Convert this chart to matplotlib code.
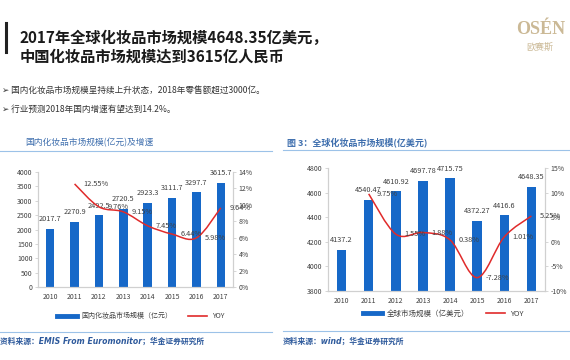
import numpy as np
import matplotlib
matplotlib.use('Agg')
import matplotlib.pyplot as plt
from matplotlib.path import Path
from matplotlib.patches import PathPatch
from matplotlib.lines import Line2D

plt.rcParams['font.family'] = ['Noto Sans CJK SC', 'DejaVu Sans']

# ---- data ----
years = ['2010', '2011', '2012', '2013', '2014', '2015', '2016', '2017']
cn_size = [2017.7, 2270.9, 2492.5, 2720.5, 2923.3, 3111.7, 3297.7, 3615.7]
cn_yoy = [12.55, 9.76, 9.15, 7.45, 6.44, 5.98, 9.64]          # 2011-2017
world_size = [4137.2, 4540.47, 4610.92, 4697.78, 4715.75, 4372.27, 4416.6, 4648.35]
world_yoy = [9.75, 1.55, 1.88, 0.38, -7.28, 1.01, 5.25]       # 2011-2017

title_lines = ['2017年全球化妆品市场规模4648.35亿美元，', '中国化妆品市场规模达到3615亿人民币']
bullets = ['➢ 国内化妆品市场规模呈持续上升状态，2018年零售额超过3000亿。',
           '➢ 行业预测2018年国内增速有望达到14.2%。']

BLUE = '#1668c8'
RED = '#e02b2b'
HDR = '#3f6fae'
RULE = '#9cc2e8'
SPINE = '#d0d0d0'
TXT = '#404040'
SRC = ['DejaVu Sans', 'Noto Sans CJK SC']   # oblique latin, cjk falls back

W, H = 570, 360


def px(x, y):
    return x / W, 1 - y / H


def smooth_path(xs, ys):
    # catmull-rom style bezier through the points, like excel's smoothed line
    pts = np.column_stack([xs, ys]).astype(float)
    n = len(pts)
    verts = [pts[0]]
    codes = [Path.MOVETO]
    for i in range(n - 1):
        p0 = pts[i - 1] if i > 0 else pts[i]
        p1 = pts[i]
        p2 = pts[i + 1]
        p3 = pts[i + 2] if i + 2 < n else pts[i + 1]
        verts += [p1 + (p2 - p0) / 6, p2 - (p3 - p1) / 6, p2]
        codes += [Path.CURVE4] * 3
    return Path(verts, codes)


def style_axes(ax, ax2):
    for a in (ax, ax2):
        a.spines['top'].set_visible(False)
        for s in ('left', 'right', 'bottom'):
            a.spines[s].set_color(SPINE)
            a.spines[s].set_linewidth(0.8)
        a.tick_params(axis='y', labelsize=5, colors=TXT, length=2, width=0.6,
                      color=SPINE, pad=2)
    ax.tick_params(axis='x', labelsize=5, colors=TXT, length=0, pad=4)
    ax.set_xlim(-0.5, len(years) - 0.5)


def draw_chart(rect, sizes, yoy, ylim, ystep, ylim2, ystep2, bar_fmt):
    ax = fig.add_axes(rect)
    ax2 = ax.twinx()
    x = np.arange(len(years))
    ax.bar(x, sizes, width=0.35, color=BLUE, zorder=2)
    ax.set_ylim(*ylim)
    ax.set_yticks(np.arange(ylim[0], ylim[1] + 1, ystep))
    ax.set_xticks(x)
    ax.set_xticklabels(years)
    for i, v in enumerate(sizes):
        ax.annotate(bar_fmt(v), (i, v), xytext=(0, 4), textcoords='offset points',
                    ha='center', va='bottom', fontsize=5.3, color=TXT)
    xl = x[1:]
    ax2.add_patch(PathPatch(smooth_path(xl, yoy), fill=False, edgecolor=RED, lw=1.1, zorder=3))
    ax2.set_ylim(*ylim2)
    t2 = np.arange(ylim2[0], ylim2[1] + 1, ystep2)
    ax2.set_yticks(t2)
    ax2.set_yticklabels([f'{v}%' for v in t2])
    for i, v in zip(xl, yoy):
        ax2.annotate(f'{v:.2f}%', (i, v), xytext=(6, 0), textcoords='offset points',
                     ha='left', va='center', fontsize=5.3, color=TXT, zorder=4)
    style_axes(ax, ax2)
    return ax, ax2


fig = plt.figure(figsize=(5.7, 3.6), dpi=100)

# ---- header of the slide ----
fig.add_artist(Line2D([5.5 / W, 5.5 / W], [1 - 23 / H, 1 - 52 / H], color='#222222', lw=2.2))
fig.text(*px(20, 38), title_lines[0], fontsize=11, fontweight='bold', va='center', color='#1a1a1a')
fig.text(*px(20, 57), title_lines[1], fontsize=11, fontweight='bold', va='center', color='#1a1a1a')
fig.text(*px(541, 30), 'OSÉN', family='Liberation Serif', fontweight='bold', fontsize=13,
         color='#cbb996', ha='center', va='center')
fig.text(*px(540, 47), '欧赛斯', fontsize=6.5, color='#cbb996', ha='center', va='center')
fig.text(*px(2, 90), bullets[0], fontsize=6.2, color='#333333', va='center')
fig.text(*px(2, 109), bullets[1], fontsize=6.2, color='#333333', va='center')

# ---- left chart ----
fig.text(*px(25, 143), '国内化妆品市场规模(亿元)及增速', fontsize=6.3, color=HDR, va='center')
fig.add_artist(Line2D([0, 272 / W], [1 - 151 / H] * 2, color=RULE, lw=0.8))
axL, axL2 = draw_chart([38 / W, 1 - 287 / H, 195 / W, 115 / H], cn_size, cn_yoy,
                       (0, 4000), 500, (0, 14), 2, lambda v: f'{v:.1f}')
hL = [Line2D([], [], color=BLUE, lw=3.5), Line2D([], [], color=RED, lw=1.2)]
fig.legend(hL, ['国内化妆品市场规模（亿元）', 'YOY'], loc='center', bbox_to_anchor=px(141, 316),
           ncol=2, frameon=False, fontsize=5, handlelength=2.8, columnspacing=2.2,
           handletextpad=0.7, labelcolor=TXT)
fig.add_artist(Line2D([0, 272 / W], [1 - 332 / H] * 2, color=RULE, lw=0.8))
fig.text(*px(0, 341), '资料来源：EMIS From Euromonitor；华金证券研究所', fontsize=5.6,
         family=SRC, color='#2e5a9c', style='oblique', fontweight='bold', va='center')

# ---- right chart ----
fig.text(*px(287, 142), '图 3：全球化妆品市场规模(亿美元)', fontsize=6.5, fontweight='bold',
         color=HDR, va='center')
fig.add_artist(Line2D([283 / W, 1], [1 - 150 / H] * 2, color=RULE, lw=0.8))
axR, axR2 = draw_chart([328 / W, 1 - 291 / H, 217 / W, 123 / H], world_size, world_yoy,
                       (3800, 4800), 200, (-10, 15), 5, lambda v: f'{v:g}')
hR = [Line2D([], [], color=BLUE, lw=3.5), Line2D([], [], color=RED, lw=1.2)]
fig.legend(hR, ['全球市场规模（亿美元）', 'YOY'], loc='center', bbox_to_anchor=px(443, 314),
           ncol=2, frameon=False, fontsize=5.4, handlelength=2.6, columnspacing=2.2,
           handletextpad=0.6, labelcolor=TXT)
fig.add_artist(Line2D([283 / W, 1], [1 - 331 / H] * 2, color=RULE, lw=0.8))
fig.text(*px(283, 341), '资料来源：wind；华金证券研究所', fontsize=5.6,
         family=SRC, color='#2e5a9c', style='oblique', fontweight='bold', va='center')

fig.savefig('out.png', dpi=100)
